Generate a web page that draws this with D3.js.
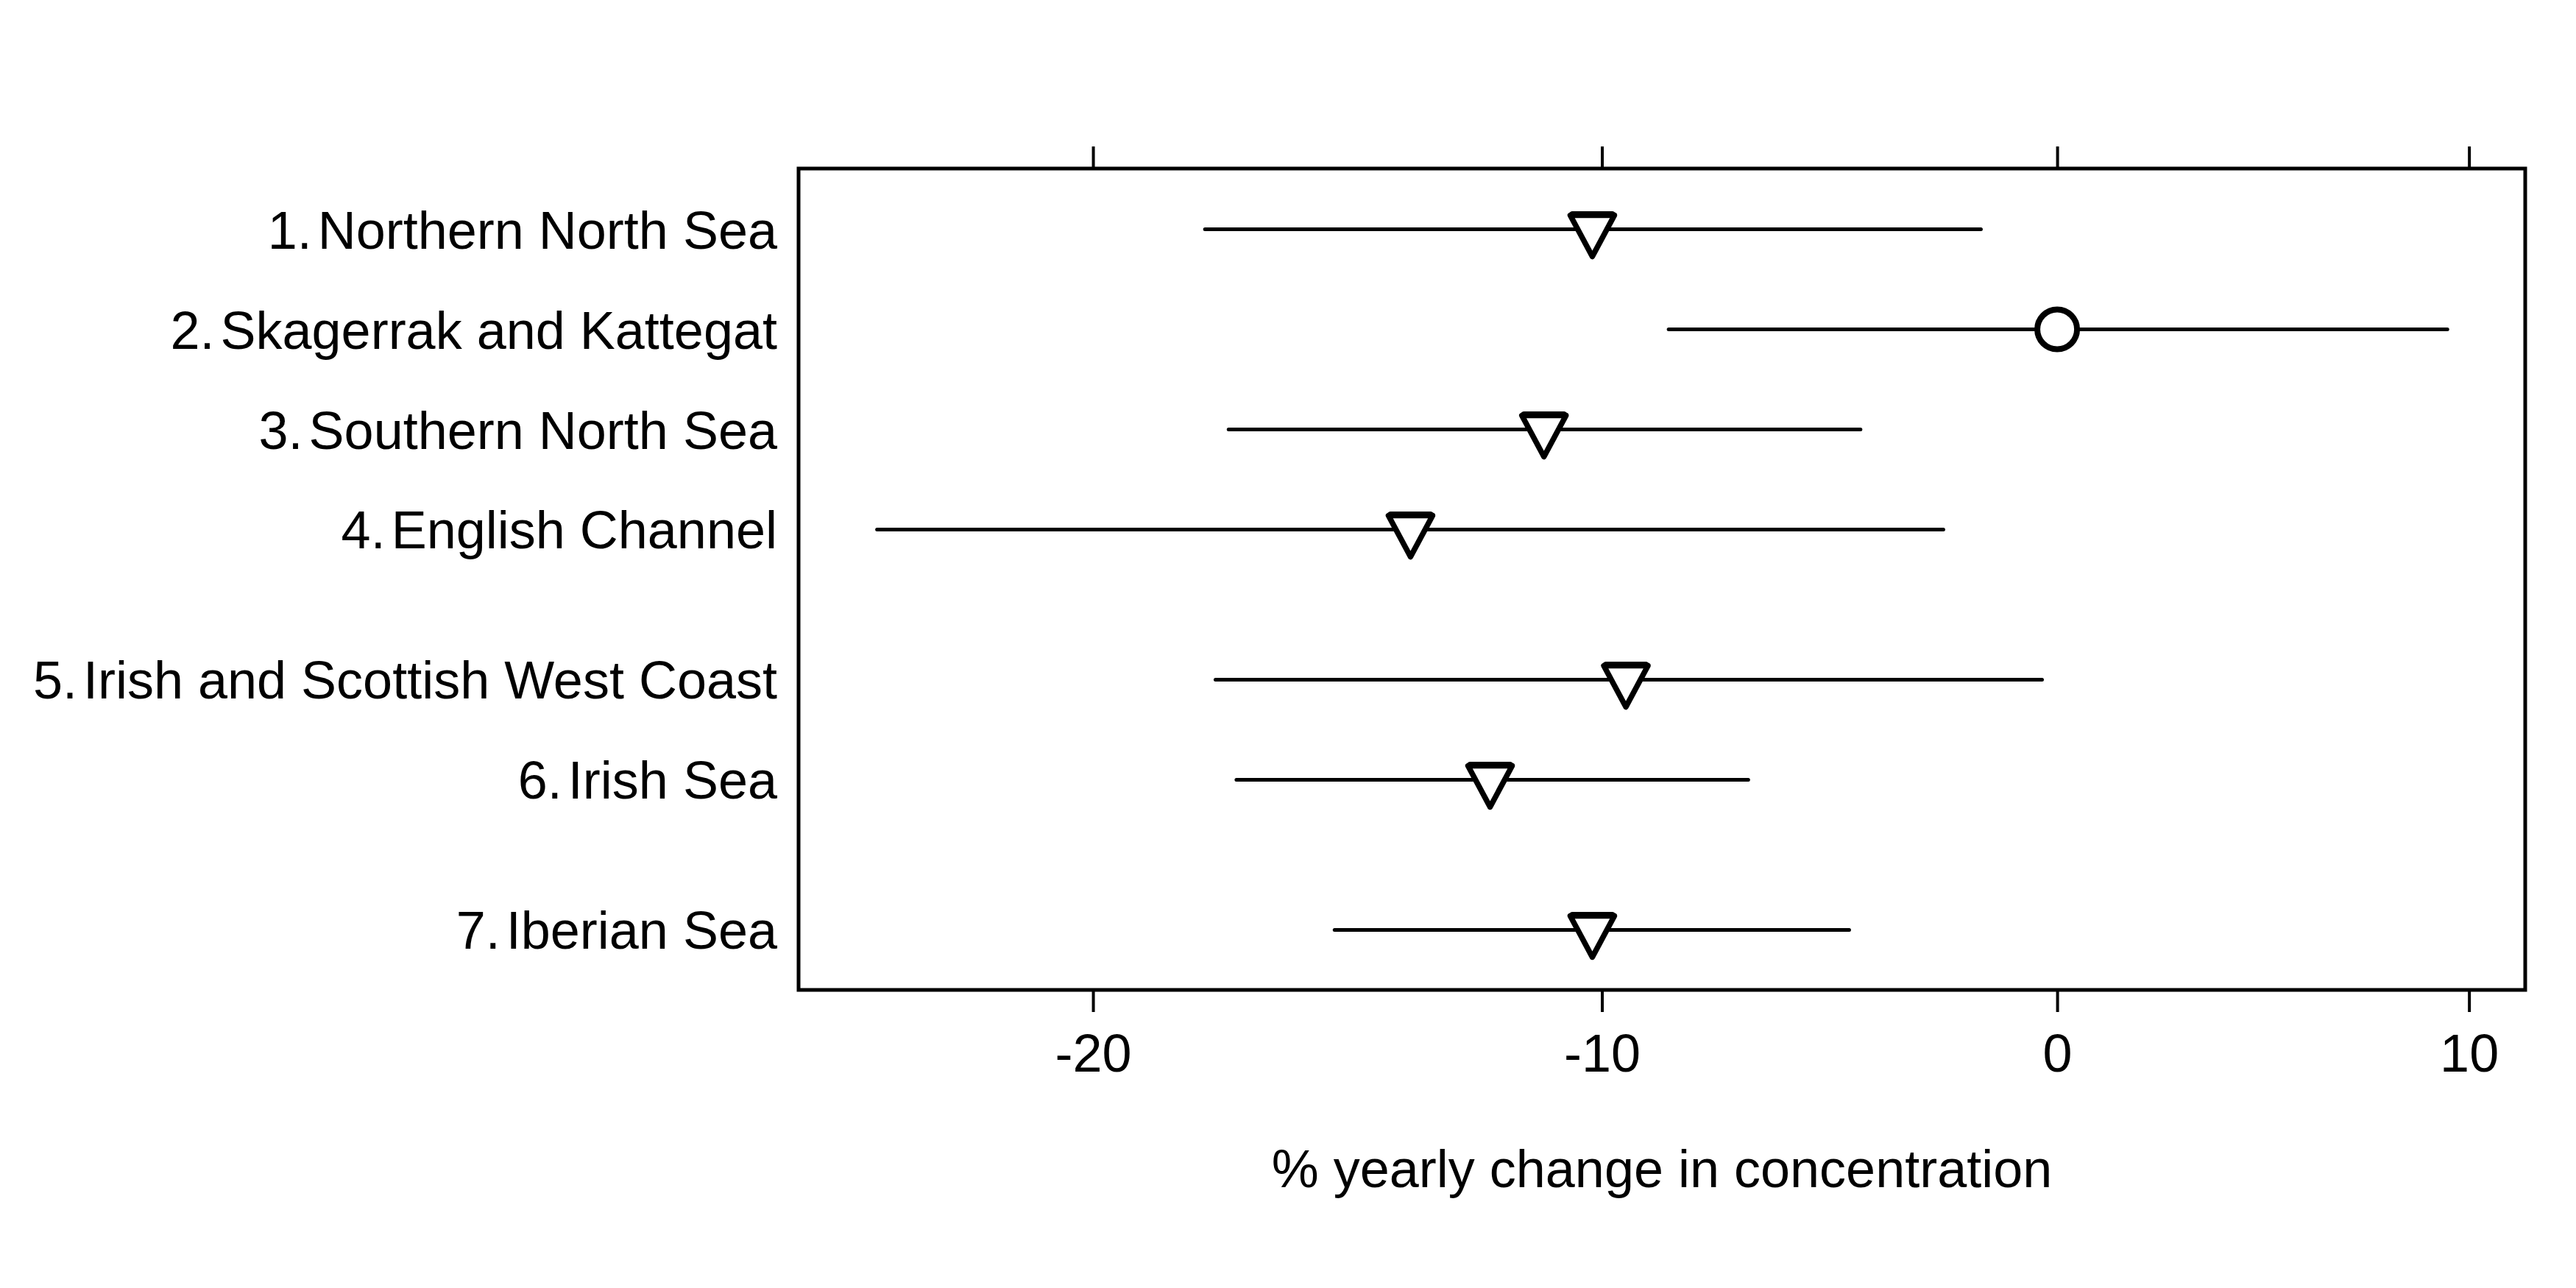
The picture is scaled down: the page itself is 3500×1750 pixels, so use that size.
<!DOCTYPE html>
<html>
<head>
<meta charset="utf-8">
<script src="https://cdn.jsdelivr.net/npm/d3@7"></script>
<style>
  html, body { margin: 0; padding: 0; background: #ffffff; }
  svg { display: block; }
  text { font-family: "Liberation Sans", Arial, Helvetica, sans-serif; fill: #000; }
</style>
</head>
<body>
<svg id="chart" width="3500" height="1750"></svg>
<script>
// ---- data ----
const numbers   = ["1.", "2.", "3.", "4.", "5.", "6.", "7."];
const regions   = ["Northern North Sea", "Skagerrak and Kattegat", "Southern North Sea",
                   "English Channel", "Irish and Scottish West Coast", "Irish Sea", "Iberian Sea"];
const rowPos    = [1, 2, 3, 4, 5.5, 6.5, 8];
const estimate  = [-10.2, 0.0, -11.2, -13.9, -9.5, -12.3, -10.2];
const lower     = [-17.9, -8.6, -17.45, -23.9, -17.7, -17.3, -15.4];
const upper     = [-1.75, 9.45, -4.45, -2.6, -0.35, -6.9, -4.7];
const trendSig  = [true, false, true, true, true, true, true]; // triangle = significant downward trend, circle = no trend
const tickVals  = [-20, -10, 0, 10];
const xTitle    = "% yearly change in concentration";

// ---- layout ----
const plot = { left: 1085, right: 3431, top: 229, bottom: 1345 };
const fontSize = 72;

const svg = d3.select("#chart");
svg.append("rect").attr("width", 3500).attr("height", 1750).attr("fill", "#fff");

// log-ratio scale: position ~ ln(1 + change/100)
const x = d3.scaleLog()
  .domain([100 - 25.27, 100 + 11.44])
  .range([plot.left, plot.right]);
const xv = v => x(100 + v);

const y = d3.scaleLinear()
  .domain([0.393, 8.6])
  .range([plot.top, plot.bottom]);

const rows = regions.map((r, i) => ({
  num: numbers[i], name: r, pos: rowPos[i],
  est: estimate[i], lo: lower[i], hi: upper[i], sig: trendSig[i]
}));

// ---- axes ----
const bottomAxis = d3.axisBottom(x)
  .tickValues(tickVals.map(v => 100 + v))
  .tickFormat(d => String(Math.round(d - 100)))
  .tickSize(30)
  .tickPadding(30);

const gb = svg.append("g").attr("transform", `translate(0,${plot.bottom})`).call(bottomAxis);
gb.select(".domain").remove();
gb.selectAll(".tick line").attr("stroke", "#000").attr("stroke-width", 4);
gb.selectAll(".tick text")
  .attr("font-size", fontSize)
  .attr("font-family", "Liberation Sans, Arial, sans-serif")
  .attr("fill", "#000");

const topAxis = d3.axisTop(x)
  .tickValues(tickVals.map(v => 100 + v))
  .tickFormat("")
  .tickSize(30);
const gt = svg.append("g").attr("transform", `translate(0,${plot.top})`).call(topAxis);
gt.select(".domain").remove();
gt.selectAll(".tick line").attr("stroke", "#000").attr("stroke-width", 4);

// ---- frame ----
svg.append("rect")
  .attr("x", plot.left).attr("y", plot.top)
  .attr("width", plot.right - plot.left).attr("height", plot.bottom - plot.top)
  .attr("fill", "none").attr("stroke", "#000").attr("stroke-width", 5);

// ---- interval lines ----
svg.append("g").selectAll("line").data(rows).join("line")
  .attr("x1", d => xv(d.lo)).attr("x2", d => xv(d.hi))
  .attr("y1", d => y(d.pos)).attr("y2", d => y(d.pos))
  .attr("stroke", "#000").attr("stroke-width", 5).attr("stroke-linecap", "round");

// ---- markers ----
const tri = "M-30,-19 L30,-19 L0,37 Z";
const mk = svg.append("g");
mk.selectAll("path").data(rows.filter(d => d.sig)).join("path")
  .attr("d", tri)
  .attr("transform", d => `translate(${xv(d.est)},${y(d.pos)})`)
  .attr("fill", "#fff").attr("stroke", "#000").attr("stroke-width", 7.5)
  .attr("stroke-linejoin", "round");
mk.selectAll("line.topedge").data(rows.filter(d => d.sig)).join("line")
  .attr("class", "topedge")
  .attr("x1", d => xv(d.est) - 27).attr("x2", d => xv(d.est) + 27)
  .attr("y1", d => y(d.pos) - 20).attr("y2", d => y(d.pos) - 20)
  .attr("stroke", "#000").attr("stroke-width", 9).attr("stroke-linecap", "round");
mk.selectAll("circle").data(rows.filter(d => !d.sig)).join("circle")
  .attr("cx", d => xv(d.est)).attr("cy", d => y(d.pos)).attr("r", 27)
  .attr("fill", "#fff").attr("stroke", "#000").attr("stroke-width", 8);

// ---- row labels ----
const lab = svg.append("g").selectAll("text").data(rows).join("text")
  .attr("x", plot.left - 29)
  .attr("y", d => y(d.pos) + 26)
  .attr("text-anchor", "end")
  .attr("font-size", fontSize);
lab.append("tspan").text(d => d.num);
lab.append("tspan").attr("dx", 8).text(d => d.name);

// ---- axis title ----
svg.append("text")
  .attr("x", (plot.left + plot.right) / 2)
  .attr("y", 1613)
  .attr("text-anchor", "middle")
  .attr("font-size", fontSize)
  .text(xTitle);
</script>
</body>
</html>
